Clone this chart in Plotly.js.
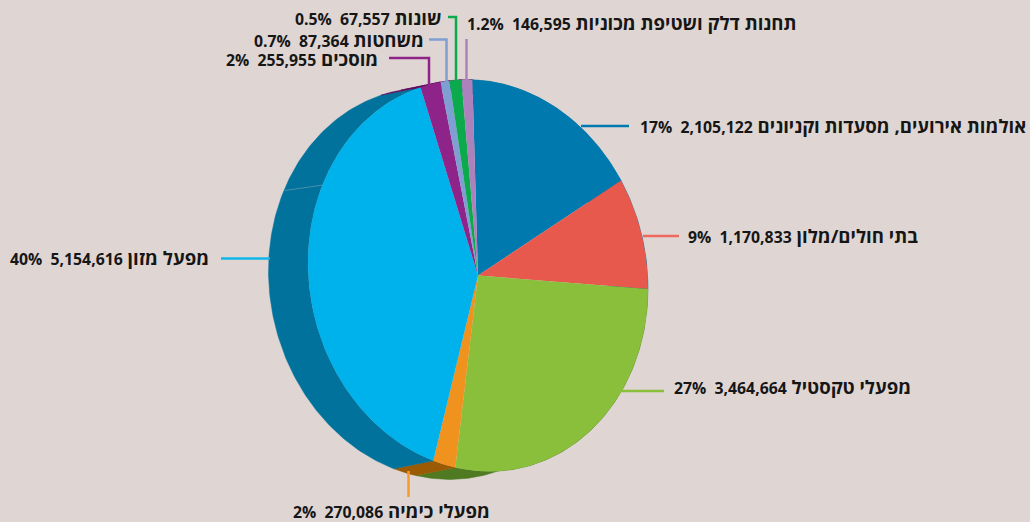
<!DOCTYPE html>
<html><head><meta charset="utf-8">
<script src="https://cdn.plot.ly/plotly-3.0.1.min.js"></script>
<style>html,body{margin:0;padding:0;background:#dfd6d4}</style></head>
<body><div id="chart" style="width:1030px;height:522px"></div>
<script>
const categories = ["אולמות אירועים, מסעדות וקניונים","בתי חולים/מלון","מפעלי טקסטיל","מפעלי כימיה","מפעל מזון","מוסכים","משחטות","שונות","תחנות דלק ושטיפת מכוניות"];
// printed values
const valueLabels = ["2,105,122","1,170,833","3,464,664","270,086","5,154,616","255,955","87,364","67,557","146,595"];
const percentLabels = ["17%","9%","27%","2%","40%","2%","0.7%","0.5%","1.2%"];
// slice sizes as drawn in the picture (the smallest slices are drawn wider than their printed values)
const values = [2105122,1170833,3464664,270086,5154616,250000,110000,145000,131000];
const faceColors = ["#0079ae","#e8594d","#8abf3c","#ef931e","#00b2ec","#8e2489","#7f9fd2","#0bab4d","#ad82bc"];
const sideColors = ["#00729b","#00729b","#4f7a22","#9b5a04","#00729b","#5f0d5e","#5f0d5e","#5f0d5e","#5f0d5e"];
const lineColors = ["#0079ae","#f0695f","#8abf3c","#f7992e","#10b5ea","#8e2489","#7f9fd2","#0bab4d","#ad82bc"];
// label anchor (left edge, centre y)
const labelX = [638,686,672,291,8,224,252,293,465];
const labelY = [125,235,386.5,510,257.5,58,39,17,22];
// leader polylines
const leaders = [
  [[581,126],[629,126]],
  [[643,236],[679,236]],
  [[608,391],[664,391]],
  [[408.5,471],[408.5,497]],
  [[221,258.5],[270,258.5]],
  [[389,58],[429,58],[429,88]],
  [[429,39.5],[446.5,39.5],[446.5,85]],
  [[448,17],[456,17],[456,85]],
  [[466.5,39],[466.5,90]]
];
const cx=478, cy=275.5, rx=170, ry=195.5, shear=0.075, rot=-1.9, W=1030, H=522;
const sideDx=-39.5, sideDy=8;

function rim(deg){const t=deg*Math.PI/180;
  return [cx+rx*Math.sin(t), cy-ry*Math.cos(t)+shear*rx*Math.sin(t)];}

const total = values.reduce((a,b)=>a+b,0);
let start = rot;
const traces = [];
values.forEach((v,i)=>{
  const sweep = v/total*360, xs=[], ys=[];
  const n = Math.max(2,Math.ceil(sweep));
  for(let k=0;k<=n;k++){const p=rim(start+sweep*k/n); xs.push(p[0]); ys.push(p[1]);}
  for(let k=n;k>=0;k--){const p=rim(start+sweep*k/n); xs.push(p[0]+sideDx); ys.push(p[1]+sideDy);}
  xs.push(xs[0]); ys.push(ys[0]);
  traces.push({type:'scatter',mode:'lines',x:xs,y:ys,fill:'toself',fillcolor:sideColors[i],
    line:{width:0.5,color:sideColors[i]},hoverinfo:'skip',showlegend:false});
  start += sweep;
});
// faint seam on the side wall
traces.push({type:'scatter',mode:'lines',x:[285,323],y:[190.5,185],line:{width:1,color:'#4a8fae'},hoverinfo:'skip',showlegend:false});
traces.push({type:'pie',labels:categories,values:values,sort:false,direction:'clockwise',rotation:rot,
  marker:{colors:faceColors,line:{width:0}},textinfo:'none',hoverinfo:'label+value',showlegend:false,
  domain:{x:[(cx-rx)/W,(cx+rx)/W],y:[(H-cy-rx)/H,(H-cy+rx)/H]}});

const shapes = leaders.map((pts,i)=>({type:'path',xref:'x',yref:'y',layer:'above',
  path:pts.map((p,j)=>(j?'L':'M')+p[0]+','+p[1]).join(' '),
  line:{color:lineColors[i],width:2.5}}));

const annotations = categories.map((c,i)=>({xref:'x',yref:'y',x:labelX[i],y:labelY[i],xanchor:'left',yanchor:'middle',
  showarrow:false,align:'left',
  text:'<b><span style="font-size:15.8px">'+percentLabels[i]+'&nbsp; '+valueLabels[i]+'</span> '+c+'</b>',
  font:{family:'"Open Sans","Liberation Sans",sans-serif',size:18.6,color:'#161616'}}));

const layout = {width:W,height:H,margin:{l:0,r:0,t:0,b:0},paper_bgcolor:'#dfd6d4',plot_bgcolor:'#dfd6d4',
  showlegend:false,shapes,annotations,
  xaxis:{range:[0,W],visible:false,fixedrange:true},
  yaxis:{range:[H,0],visible:false,fixedrange:true}};

Plotly.newPlot('chart',traces,layout,{displayModeBar:false,staticPlot:true}).then(()=>{
  const s=ry/rx;
  document.querySelector('.pielayer').setAttribute('transform',
    `matrix(1 ${shear} 0 ${s} 0 ${cy-s*cy-shear*cx})`);
});
</script></body></html>
